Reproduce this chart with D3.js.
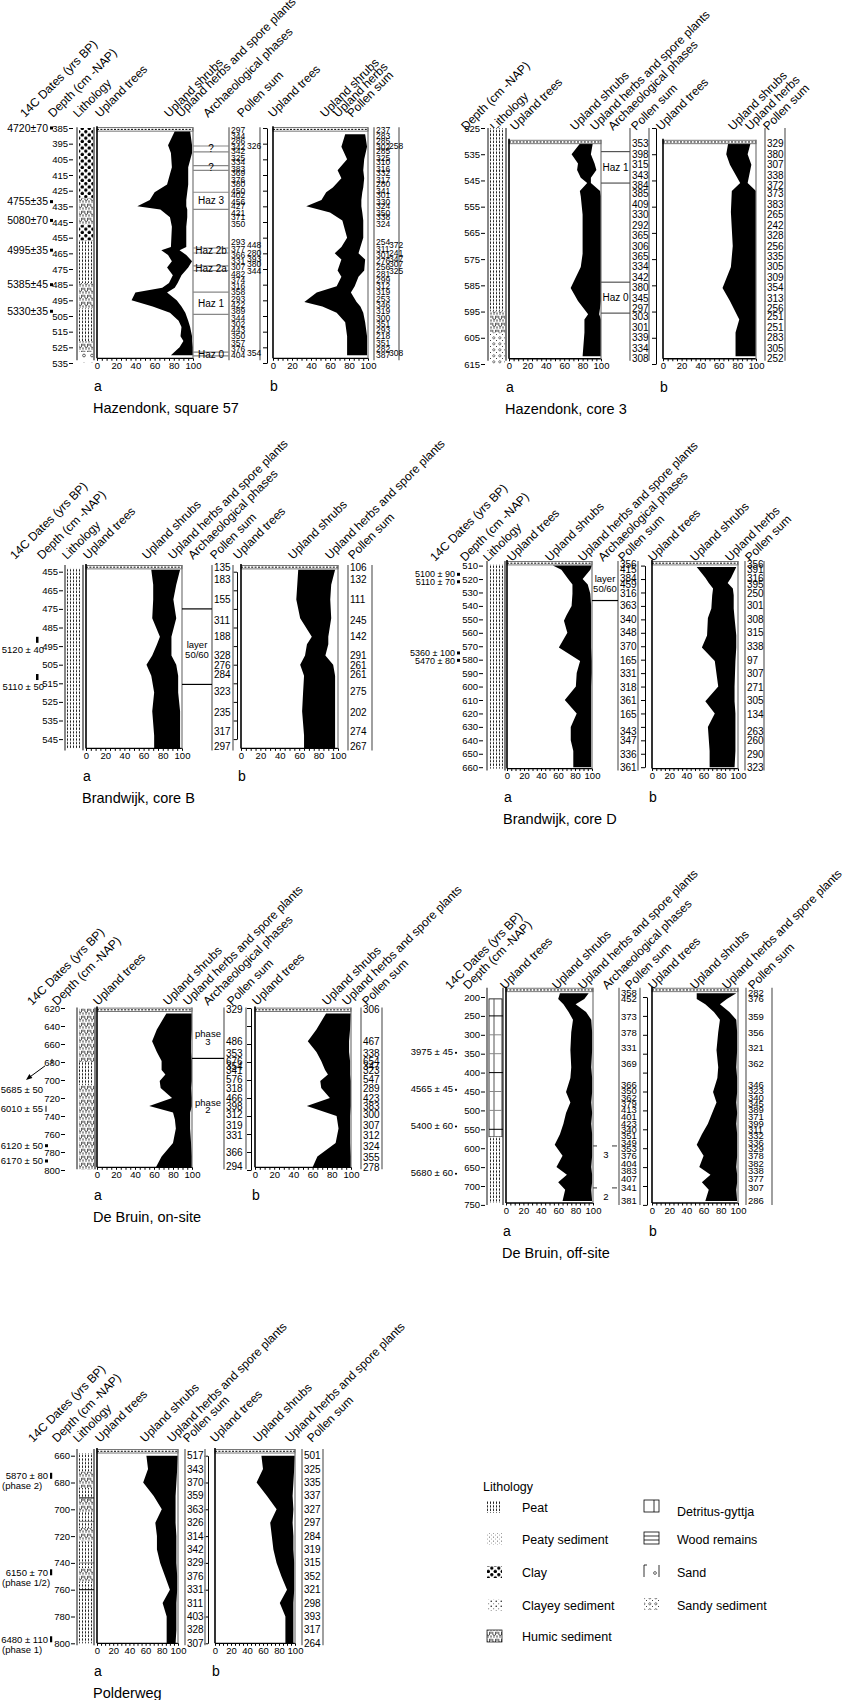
<!DOCTYPE html>
<html>
<head>
<meta charset="utf-8">
<title>Pollen diagrams</title>
<script src="https://cdn.jsdelivr.net/npm/d3@7/dist/d3.min.js"></script>
<style>
  body { margin: 0; background: #fff; }
  text { font-family: "Liberation Sans", Arial, Helvetica, sans-serif; fill: #000; }
</style>
</head>
<body>
<svg id="chart" width="856" height="1700"></svg>
<script>

// shared percentage axis
var pctLabels = [0, 20, 40, 60, 80, 100];
var pctMinor = [0, 5, 10, 15, 20, 25, 30, 35, 40, 45, 50, 55, 60, 65, 70, 75, 80, 85, 90, 95, 100];

// ---------- Hazendonk, square 57
var hz57Ticks = [385, 395, 405, 415, 425, 435, 445, 455, 465, 475, 485, 495, 505, 515, 525, 535];
var hz57DepthA = [387, 396, 401, 410, 421, 426, 431, 435, 437, 442, 448, 461, 463, 466, 470, 474, 479, 484, 487, 490, 495, 499, 503, 508, 512, 518, 521, 525, 530];
var hz57TreesA = [81, 74, 77, 78, 73, 60, 55, 42, 66, 76, 78, 77, 67, 74, 78, 73, 79, 75, 68, 40, 36, 58, 76, 85, 88, 87, 90, 86, 77];
var hz57ShrubsA = [16, 25, 22, 17, 22, 34, 38, 51, 28, 18, 15, 16, 19, 19, 21, 22, 9, 9, 13, 33, 47, 30, 16, 10, 9, 12, 9, 14, 23];
var hz57DepthB = [389, 397, 405, 412, 417, 423, 426, 431, 435, 439, 444, 455, 461, 465, 469, 476, 480, 486, 490, 496, 499, 503, 509, 518, 530];
var hz57TreesB = [76, 72, 78, 68, 72, 63, 56, 51, 35, 60, 73, 78, 72, 65, 72, 68, 72, 67, 46, 33, 52, 67, 76, 78, 78];
var hz57ShrubsB = [21, 27, 18, 27, 24, 32, 38, 42, 58, 34, 22, 17, 20, 25, 25, 28, 18, 19, 36, 55, 40, 28, 21, 21, 21];
var hz57SumDepth = [386, 390, 393, 397, 400, 404, 407, 411, 414, 418, 421, 425, 428, 432, 435, 439, 442, 446, 458, 462, 466, 470, 474, 478, 482, 486, 490, 494, 498, 502, 506, 510, 514, 518, 522, 526, 530];
var hz57SumA = [297, 344, 286, 342, 342, 325, 334, 383, 369, 376, 380, 450, 402, 456, 427, 421, 371, 350, 293, 377, 366, 331, 307, 482, 374, 316, 358, 293, 422, 389, 344, 302, 443, 350, 357, 376, 404];
var hz57SumB = [237, 283, 285, 302, 285, 325, 310, 316, 332, 317, 280, 341, 301, 330, 324, 350, 338, 324, 254, 311, 301, 276, 256, 281, 299, 312, 319, 253, 346, 319, 300, 351, 293, 218, 351, 282, 387];
var hz57Sum2Depth = [396.5, 460, 465, 468.5, 472, 476, 528.5];
var hz57Sum2A = [326, 448, 280, 393, 380, 344, 354];
var hz57Sum2B = [258, 372, 241, 347, 307, 325, 308];
var hz57Lith = [[385, 430, 'clay'], [430, 447, 'humic'], [447, 457, 'clay'], [457, 484, 'peat'], [484, 500, 'humic'], [500, 521, 'peat'], [521, 528, 'humic'], [528, 535, 'sand']];
var hz57PhaseLines = [396.5, 400.3, 409, 412, 426, 437, 461.6, 464.8, 473, 476, 489.7, 504, 528, 530.5];
var hz57PhaseNames = ['?', '?', 'Haz 3', 'Haz 2b', 'Haz 2a', 'Haz 1', 'Haz 0'];
var hz57PhaseDepths = [398.4, 410.5, 431.5, 463.2, 474.5, 497, 529.3];
var hz57Dates = ['4720\u00b170', '4755\u00b135', '5080\u00b170', '4995\u00b135', '5385\u00b145', '5330\u00b135'];
var hz57DateDepths = [385, 432, 444, 463, 485, 502];

// ---------- Hazendonk, core 3
var hz3Ticks = [525, 535, 545, 555, 565, 575, 585, 595, 605, 615];
var hz3DepthA = [531, 535, 538.5, 541, 544, 546, 549, 551, 558, 565, 573, 578, 586, 591, 596, 598, 603, 612];
var hz3TreesA = [77, 68, 75, 74, 78, 85, 77, 78, 80, 80, 80, 78, 67, 75, 86, 82, 82, 80];
var hz3ShrubsA = [14, 21, 18, 21, 11, 4, 22, 22, 20, 20, 20, 22, 33, 25, 12, 18, 18, 20];
var hz3DepthB = [531, 535, 539, 546, 549, 557, 570, 578, 586, 591, 598, 603, 612];
var hz3TreesB = [70, 68, 72, 83, 74, 73, 75, 73, 64, 72, 82, 78, 78];
var hz3ShrubsB = [24, 23, 23, 8, 26, 27, 25, 27, 36, 28, 18, 22, 22];
var hz3SumDepth = [531, 535, 539, 543, 547, 550, 554, 558, 562, 566, 570, 574, 578, 582, 586, 590, 594, 597, 601, 605, 609, 613];
var hz3SumA = [353, 398, 315, 343, 384, 385, 409, 330, 292, 365, 306, 365, 334, 342, 380, 345, 297, 303, 301, 339, 334, 308];
var hz3SumB = [329, 380, 307, 338, 372, 373, 383, 265, 242, 328, 256, 335, 305, 309, 354, 313, 256, 251, 251, 283, 305, 252];
var hz3Lith = [[525, 595, 'peat'], [595, 603, 'humic'], [603, 615, 'sandy']];
var hz3PhaseLines = [534, 546, 583.8, 595.6];
var hz3PhaseNames = ['Haz 1', 'Haz 0'];
var hz3PhaseDepths = [540, 589.7];

// ---------- Brandwijk, core B
var bwBTicks = [455, 465, 475, 485, 495, 505, 515, 525, 535, 545];
var bwBDepth = [454, 462, 470, 480, 490, 494, 500, 505, 511, 520, 530, 543, 550];
var bwBTreesA = [68, 70, 70, 69, 77, 74, 69, 63, 68, 71, 69, 71, 71];
var bwBShrubsA = [30, 24, 21, 25, 12, 15, 20, 31, 28, 25, 29, 27, 27];
var bwBTreesB = [59, 58, 57, 61, 73, 68, 66, 61, 65, 64, 63, 65, 65];
var bwBShrubsB = [38, 35, 35, 32, 17, 22, 21, 34, 32, 33, 34, 32, 32];
var bwBSumDepth = [453, 459, 470, 481, 490, 500, 505.5, 510.5, 519.5, 530.5, 541, 549];
var bwBSumA = [135, 183, 155, 311, 188, 328, 276, 284, 323, 235, 317, 297];
var bwBSumB = [106, 132, 111, 245, 142, 291, 261, 261, 275, 202, 274, 267];
var bwBLith = [[453, 550, 'peat']];
var bwBPhaseLines = [475, 515.6];
var bwBPhaseNames = ['layer', '50/60'];
var bwBPhaseDepths = [494, 499.5];
var bwBDates = ['5120 \u00b1 40', '5110 \u00b1 50'];
var bwBDateDepths = [497, 517];

// ---------- Brandwijk, core D
var bwDTicks = [510, 520, 530, 540, 550, 560, 570, 580, 590, 600, 610, 620, 630, 640, 650, 660];
var bwDDepthA = [510, 513, 520, 524, 531, 540, 547, 551, 560, 571, 581, 590, 600, 610, 620, 630, 640, 648, 660];
var bwDTreesA = [54, 64, 72, 77, 77, 76, 70, 67, 71, 61, 86, 82, 81, 68, 82, 75, 75, 78, 78];
var bwDShrubsA = [46, 34, 17, 18, 21, 23, 29, 32, 28, 38, 14, 18, 18, 31, 17, 24, 24, 21, 21];
var bwDDepthB = [511, 519, 523, 527, 532, 542, 549, 562, 571, 581, 600, 611, 620, 630, 648, 660];
var bwDTreesB = [52, 62, 66, 71, 70, 69, 65, 64, 58, 73, 77, 62, 73, 65, 67, 67];
var bwDShrubsB = [46, 30, 22, 23, 25, 26, 31, 34, 40, 24, 19, 34, 24, 32, 30, 29];
var bwDSumDepth = [509.5, 513, 519.5, 524, 531, 540, 550, 560, 570, 580.5, 590.5, 600.5, 610.5, 620.5, 633.5, 640.5, 650.5, 660];
var bwDSumA = [356, 415, 384, 459, 316, 363, 340, 348, 370, 165, 331, 318, 361, 165, 343, 347, 336, 361];
var bwDSumB = [356, 391, 316, 395, 250, 301, 308, 315, 338, 97, 307, 271, 305, 134, 263, 260, 290, 323];
var bwDLith = [[509, 661, 'peat']];
var bwDPhaseLines = [536];
var bwDPhaseNames = ['layer', '50/60'];
var bwDPhaseDepths = [520, 527.5];
var bwDDates = ['5100 \u00b1 90', '5110 \u00b1 70', '5360 \u00b1 100', '5470 \u00b1 80'];
var bwDDateDepths = [516.5, 522, 575, 580.5];

// ---------- De Bruin, on-site
var dbOnTicks = [620, 640, 660, 680, 700, 720, 740, 760, 780, 800];
var dbOnDepthA = [626, 644, 657, 669, 679, 689, 694, 701, 709, 720, 729, 736, 744, 754, 770, 785, 797];
var dbOnTreesA = [73, 63, 58, 63, 68, 68, 72, 66, 67, 79, 55, 80, 82, 83, 80, 68, 62];
var dbOnShrubsA = [27, 37, 41, 36, 32, 32, 28, 34, 32, 21, 45, 18, 16, 15, 19, 32, 38];
var dbOnDepthB = [626, 644, 657, 669, 679, 689, 694, 701, 709, 720, 729, 740, 754, 770, 785, 797];
var dbOnTreesB = [74, 64, 55, 64, 69, 73, 76, 68, 69, 78, 54, 85, 87, 84, 65, 60];
var dbOnShrubsB = [26, 35, 43, 34, 30, 26, 23, 32, 31, 22, 46, 14, 12, 15, 35, 40];
var dbOnSumDepthA = [622, 657.5, 670, 679.5, 684.5, 689, 699.5, 709, 720, 729.5, 738, 750, 762, 781, 796];
var dbOnSumA = [329, 486, 353, 676, 354, 341, 576, 318, 466, 398, 312, 319, 331, 366, 294];
var dbOnSumDepthB = [622, 657.5, 670, 679.5, 684.5, 689, 699.5, 709, 720, 729.5, 738, 750, 762, 774, 786, 797];
var dbOnSumB = [306, 467, 338, 654, 347, 323, 547, 289, 423, 383, 300, 307, 312, 324, 355, 278];
var dbOnLith = [[620, 680, 'humic'], [680, 706, 'peat'], [706, 800, 'humic']];
var dbOnPhaseLines = [676];
var dbOnPhaseNames = ['phase', '3', 'phase', '2'];
var dbOnPhaseDepths = [649, 657.5, 725, 733.5];
var dbOnDates = ['5685 \u00b1 50', '6010 \u00b1 55', '6120 \u00b1 50', '6170 \u00b1 50'];
var dbOnDateDepths = [711, 732, 773, 790];

// ---------- De Bruin, off-site
var dbOffTicks = [200, 250, 300, 350, 400, 450, 500, 550, 600, 650, 700, 750];
var dbOffDepth = [190, 205, 219, 240, 260, 293, 340, 386, 414, 451, 479, 507, 535, 563, 591, 620, 650, 670, 690, 710, 740];
var dbOffTreesA = [62, 60, 66, 72, 77, 75, 74, 75, 74, 69, 74, 69, 66, 62, 56, 65, 58, 70, 60, 68, 65];
var dbOffShrubsA = [33, 30, 14, 20, 21, 24, 25, 23, 25, 30, 24, 30, 32, 37, 43, 34, 40, 29, 39, 30, 34];
var dbOffTreesB = [52, 52, 62, 72, 79, 77, 75, 77, 76, 71, 75, 70, 65, 58, 52, 60, 55, 68, 58, 66, 62];
var dbOffShrubsB = [46, 35, 17, 18, 19, 22, 24, 21, 23, 28, 23, 29, 33, 41, 47, 39, 43, 31, 41, 32, 37];
var dbOffSumDepth = [189, 205, 253, 295, 335, 376, 433, 449, 466, 482, 498, 517, 535, 552, 568, 586, 600, 620, 640, 660, 680, 705, 738];
var dbOffSumA = [358, 452, 373, 378, 331, 369, 366, 350, 362, 379, 413, 401, 423, 340, 351, 349, 353, 376, 404, 383, 407, 341, 381];
var dbOffSumB = [282, 376, 359, 356, 321, 362, 346, 323, 340, 345, 389, 371, 399, 311, 332, 336, 329, 378, 382, 338, 377, 307, 286];
var dbOffLith = [[205, 570, 'detritus'], [570, 745, 'peat']];
var dbOffLithLines = [250, 300, 350, 400, 450, 500, 550];
var dbOffPhaseLines = [594, 705];
var dbOffPhaseNames = ['3', '2'];
var dbOffPhaseDepths = [617, 728];
var dbOffDates = ['3975 \u00b1 45', '4565 \u00b1 45', '5400 \u00b1 60', '5680 \u00b1 60'];
var dbOffDateDepths = [345, 443, 540, 665];

// ---------- Polderweg
var pwTicks = [660, 680, 700, 720, 740, 760, 780, 800];
var pwDepth = [660, 670, 680, 690, 700, 710, 720, 730, 740, 750, 760, 770, 780, 790, 800];
var pwTreesA = [61, 63, 57, 70, 80, 72, 74, 74, 78, 84, 90, 81, 86, 86, 86];
var pwShrubsA = [39, 36, 41, 27, 17, 25, 24, 24, 20, 15, 9, 17, 12, 12, 11];
var pwTreesB = [58, 60, 52, 65, 77, 69, 71, 73, 77, 83, 90, 81, 88, 88, 88];
var pwShrubsB = [42, 39, 46, 32, 21, 28, 27, 25, 22, 16, 9, 17, 10, 10, 10];
var pwSumA = [517, 343, 370, 359, 363, 326, 314, 342, 329, 376, 331, 311, 403, 328, 307];
var pwSumB = [501, 325, 335, 337, 327, 297, 284, 319, 315, 352, 321, 298, 393, 317, 264];
var pwLith = [[658, 672, 'peat'], [672, 684, 'humic'], [684, 692, 'peat'], [692, 702, 'humic'], [702, 714, 'peat'], [714, 724, 'humic'], [724, 744, 'peat'], [744, 754, 'humic'], [754, 800, 'peat']];
var pwLithLines = [691.5, 709, 740, 760];
var pwDates = ['5870 \u00b1 80', '6150 \u00b1 70', '6480 \u00b1 110'];
var pwDateNotes = ['(phase 2)', '(phase 1/2)', '(phase 1)'];
var pwDateDepths = [675, 747, 797];

// ---------- legend
var legendLeft = ['Peat', 'Peaty sediment', 'Clay', 'Clayey sediment', 'Humic sediment'];
var legendLeftFill = ['peat', 'peaty', 'clay', 'clayey', 'humic'];
var legendRight = ['Detritus-gyttja', 'Wood remains', 'Sand', 'Sandy sediment'];
var legendRightKind = ['detritus', 'wood', 'sand', 'sandy'];

var FONT = '"Liberation Sans", Arial, sans-serif';
var svg = d3.select('#chart');
var defs = svg.append('defs');

function makePattern(id, w, h, build) {
	var p = defs.append('pattern').attr('id', id)
		.attr('patternUnits', 'userSpaceOnUse').attr('width', w).attr('height', h);
	p.append('rect').attr('width', w).attr('height', h).attr('fill', '#fff');
	build(p);
}
makePattern('peat', 3, 3.6, function(p) {
	p.append('rect').attr('x', 1).attr('y', 0.4).attr('width', 0.9).attr('height', 2.2).attr('fill', '#000');
});
makePattern('clay', 7, 6.5, function(p) {
	p.append('circle').attr('cx', 1.8).attr('cy', 1.7).attr('r', 1.7).attr('fill', '#000');
	p.append('circle').attr('cx', 5.3).attr('cy', 4.9).attr('r', 1.7).attr('fill', '#000');
});
makePattern('humic', 6, 7, function(p) {
	p.append('path').attr('d', 'M0.8,0.8v2.2q0,1.5 1.4,1.5q1.4,0 1.4,-1.5v-2.2')
		.attr('fill', 'none').attr('stroke', '#000').attr('stroke-width', 0.7);
	p.append('rect').attr('x', 4.6).attr('y', 0.6).attr('width', 0.8).attr('height', 2.2).attr('fill', '#000');
	p.append('rect').attr('x', 1.6).attr('y', 5.2).attr('width', 0.8).attr('height', 1.5).attr('fill', '#000');
	p.append('rect').attr('x', 4.6).attr('y', 4.4).attr('width', 0.8).attr('height', 2.2).attr('fill', '#000');
});
makePattern('peaty', 4, 4, function(p) {
	p.append('rect').attr('x', 1).attr('y', 0.5).attr('width', 0.7).attr('height', 1.4).attr('fill', '#666');
	p.append('rect').attr('x', 3).attr('y', 2.5).attr('width', 0.7).attr('height', 1.2).attr('fill', '#999');
});
makePattern('clayey', 5, 5, function(p) {
	p.append('circle').attr('cx', 1.2).attr('cy', 1.2).attr('r', 0.7).attr('fill', '#000');
	p.append('circle').attr('cx', 3.7).attr('cy', 3.7).attr('r', 0.5).attr('fill', '#444');
});
makePattern('sand', 8, 9, function(p) {
	p.append('circle').attr('cx', 4).attr('cy', 4.5).attr('r', 1.4)
		.attr('fill', 'none').attr('stroke', '#000').attr('stroke-width', 0.6);
});
makePattern('sandy', 6, 6, function(p) {
	p.append('circle').attr('cx', 1.8).attr('cy', 1.8).attr('r', 1.1)
		.attr('fill', 'none').attr('stroke', '#000').attr('stroke-width', 0.5);
	p.append('circle').attr('cx', 4.5).attr('cy', 4.5).attr('r', 0.5).attr('fill', '#000');
});

function rows(depth, trees, shrubs) {
	return depth.map(function(d, i) {
		return {depth: d, trees: trees[i], shrubs: shrubs[i]};
	});
}

function drawStack(g, xr, y, top, bottom, data) {
	var x = d3.scaleLinear().domain([0, 100]).range(xr);
	var yT = y(top), yB = y(bottom);
	var area = d3.area()
		.y(function(d) { return y(d.depth); })
		.x0(function(d) { return x(d.trees); })
		.x1(function(d) { return x(d.trees + d.shrubs); });
	g.append('path').datum(data).attr('d', area).attr('fill', '#000');

	// top band
	g.append('rect').attr('x', xr[0]).attr('y', yT - 3.5).attr('width', xr[1] - xr[0]).attr('height', 3.5)
		.attr('fill', '#fff').attr('stroke', '#555').attr('stroke-width', 0.8);
	g.append('line').attr('x1', xr[0]).attr('x2', xr[1]).attr('y1', yT - 1.75).attr('y2', yT - 1.75)
		.attr('stroke', '#000').attr('stroke-width', 1).attr('stroke-dasharray', '2,1.4');
	// frame
	g.append('line').attr('x1', xr[0]).attr('x2', xr[1]).attr('y1', yB).attr('y2', yB)
		.attr('stroke', '#000').attr('stroke-width', 1.3);
	g.append('line').attr('x1', xr[0]).attr('x2', xr[0]).attr('y1', yT - 5).attr('y2', yB)
		.attr('stroke', '#000').attr('stroke-width', 1.6);
	g.append('line').attr('x1', xr[1]).attr('x2', xr[1]).attr('y1', yT - 4).attr('y2', yB)
		.attr('stroke', '#777').attr('stroke-width', 1.2);

	// percentage axis
	g.append('g').attr('transform', 'translate(0,' + yB + ')')
		.call(d3.axisBottom(x).tickValues(pctMinor).tickSize(2.5).tickFormat(''))
		.call(function(a) { a.select('.domain').remove(); });
	g.append('g').attr('transform', 'translate(0,' + yB + ')')
		.call(d3.axisBottom(x).tickValues(pctLabels).tickSize(0).tickPadding(4))
		.call(function(a) { a.select('.domain').remove(); })
		.attr('font-family', FONT).attr('font-size', 9.5);
}

function drawPanel(p) {
	var g = svg.append('g');
	var y = d3.scaleLinear().domain(p.domain).range(p.range);
	var yT = y(p.top), yB = y(p.bottom);
	var yAx = Math.min(p.range[0], yT - 4);

	// rotated column headings
	p.labels.forEach(function(l) {
		g.append('text').attr('transform', 'translate(' + l[1] + ',' + p.labelY + ') rotate(-45)')
			.attr('font-size', 12).text(l[0]);
	});

	// depth axis with labels
	g.append('g').attr('transform', 'translate(' + (p.x.depth + 5) + ',0)')
		.call(d3.axisLeft(y).tickValues(p.ticks).tickSize(4).tickPadding(1))
		.call(function(a) { a.select('.domain').remove(); })
		.attr('font-family', FONT).attr('font-size', 9.5);

	// lithology column
	var lx0 = p.x.lith[0], lx1 = p.x.lith[1];
	p.lith.forEach(function(s) {
		var y0 = y(s[0]), y1 = y(s[1]);
		if (s[2] === 'detritus') {
			g.append('rect').attr('x', lx0 + 2).attr('y', y0).attr('width', lx1 - lx0 - 3).attr('height', y1 - y0)
				.attr('fill', '#fff').attr('stroke', '#000').attr('stroke-width', 0.8);
			g.append('line').attr('x1', lx0 + 7).attr('x2', lx0 + 7).attr('y1', y0).attr('y2', y1)
				.attr('stroke', '#555').attr('stroke-width', 1);
		} else {
			g.append('rect').attr('x', lx0 + 2).attr('y', y0).attr('width', lx1 - lx0 - 3).attr('height', y1 - y0)
				.attr('fill', 'url(#' + s[2] + ')');
		}
	});
	(p.lithLines || []).forEach(function(d, i) {
		g.append('line').attr('x1', lx0 + 2).attr('x2', lx1).attr('y1', y(d)).attr('y2', y(d))
			.attr('stroke', i % 3 === 0 ? '#000' : '#888').attr('stroke-width', 1);
	});
	g.append('line').attr('x1', lx0).attr('x2', lx0).attr('y1', yAx).attr('y2', yB + 2)
		.attr('stroke', '#888').attr('stroke-width', 2);
	g.append('line').attr('x1', lx1).attr('x2', lx1).attr('y1', yAx).attr('y2', yB + 2)
		.attr('stroke', '#000').attr('stroke-width', 1);

	// the two stacked diagrams
	drawStack(g, p.x.a, y, p.top, p.bottom, p.a);
	drawStack(g, p.x.b, y, p.top, p.bottom, p.b);

	// depth axis of diagram b
	g.append('g').attr('transform', 'translate(' + p.x.bAxis + ',0)')
		.call(d3.axisLeft(y).tickValues(p.ticks).tickSize(4).tickFormat('').tickSizeOuter(0));

	// pollen sum columns
	[p.x.sumA, p.x.sumB].forEach(function(r) {
		r.forEach(function(xx) {
			g.append('line').attr('x1', xx).attr('x2', xx).attr('y1', yAx).attr('y2', yB + 2)
				.attr('stroke', '#888').attr('stroke-width', 1.6);
		});
	});
	function sums(vals, depths, xx) {
		vals.forEach(function(v, i) {
			g.append('text').attr('x', xx).attr('y', y(depths[i])).attr('dy', '0.35em')
				.attr('font-size', p.sumFont).text(v);
		});
	}
	sums(p.sumA, p.sumADepth, p.x.sumA[0] + 2);
	sums(p.sumB, p.sumBDepth, p.x.sumB[0] + 2);
	if (p.sum2A) {
		sums(p.sum2A, p.sum2Depth, p.x.sum2A);
		sums(p.sum2B, p.sum2Depth, p.x.sum2B);
	}

	// archaeological phases
	if (p.phase) {
		var px0 = p.x.phase[0], px1 = p.x.phase[1];
		p.phase.lines.forEach(function(d) {
			if (p.phase.style === 'dash') {
				g.append('line').attr('x1', px0).attr('x2', px0 + 4).attr('y1', y(d)).attr('y2', y(d))
					.attr('stroke', '#555').attr('stroke-width', 1.2);
				g.append('line').attr('x1', px1 - 7).attr('x2', px1 - 2).attr('y1', y(d)).attr('y2', y(d))
					.attr('stroke', '#555').attr('stroke-width', 1.2);
			} else {
				g.append('line').attr('x1', px0).attr('x2', px1).attr('y1', y(d)).attr('y2', y(d))
					.attr('stroke', p.phase.color).attr('stroke-width', 1.2);
			}
		});
		p.phase.names.forEach(function(t, i) {
			g.append('text').attr('x', (px0 + px1) / 2).attr('y', y(p.phase.depths[i])).attr('dy', '0.35em')
				.attr('text-anchor', 'middle').attr('font-size', p.phase.font).text(t);
		});
	}

	// radiocarbon dates
	if (p.dates) {
		p.dates.labels.forEach(function(lbl, i) {
			var yy = y(p.dates.depths[i]);
			var xd = p.x.date;
			var mark = p.dates.marks[i];
			g.append('text').attr('x', xd).attr('y', yy).attr('dy', '0.35em').attr('text-anchor', 'end')
				.attr('font-size', p.dateFont).text(lbl);
			if (mark === 'square') {
				g.append('rect').attr('x', xd + 2).attr('y', yy - 1.5).attr('width', 3).attr('height', 3);
			} else if (mark === 'dot') {
				g.append('circle').attr('cx', xd + 3).attr('cy', yy + 1).attr('r', 1.1);
			} else if (mark === 'bar') {
				g.append('rect').attr('x', xd + 2).attr('y', yy - 3).attr('width', 2.2).attr('height', 6);
			} else if (mark === 'barAbove') {
				g.append('rect').attr('x', xd - 8).attr('y', yy - 13).attr('width', 2.5).attr('height', 6);
			} else if (mark === 'tick') {
				g.append('line').attr('x1', xd + 3).attr('x2', xd + 3).attr('y1', yy - 3).attr('y2', yy + 3)
					.attr('stroke', '#000').attr('stroke-width', 1);
			} else if (mark === 'arrow') {
				var tx = xd - 17, ty = yy - 10;
				g.append('line').attr('x1', xd + 2).attr('y1', yy - 24).attr('x2', tx + 3).attr('y2', ty - 2.3)
					.attr('stroke', '#000').attr('stroke-width', 1);
				g.append('path').attr('d', 'M' + tx + ',' + ty + 'L' + (tx + 3.4) + ',' + (ty - 6) + 'L' + (tx + 6.4) + ',' + (ty - 2) + 'Z');
				g.append('line').attr('x1', xd + 9).attr('x2', xd + 9).attr('y1', yy - 31).attr('y2', yy - 26)
					.attr('stroke', '#000').attr('stroke-width', 1);
			}
			if (p.dates.notes) {
				g.append('text').attr('x', 2).attr('y', yy + 10).attr('dy', '0.35em')
					.attr('font-size', p.dateFont).text(p.dates.notes[i]);
			}
		});
	}

	// panel letters and title
	g.append('text').attr('x', p.x.a[0] - 3).attr('y', yB + 33).attr('font-size', 14).text('a');
	g.append('text').attr('x', p.x.b[0] - 3).attr('y', yB + 33).attr('font-size', 14).text('b');
	g.append('text').attr('x', p.x.a[0] - 4).attr('y', yB + 55).attr('font-size', 14.5).text(p.title);
}

var panels = [
	{
		title: 'Hazendonk, square 57', domain: [385, 535], range: [128, 363], top: 387, bottom: 532,
		ticks: hz57Ticks, labelY: 118, sumFont: 8.5, dateFont: 10.5,
		labels: [['14C Dates (yrs BP)', 25], ['Depth (cm -NAP)', 53], ['Lithology', 78], ['Upland trees', 100],
			['Upland shrubs', 169], ['Upland herbs and spore plants', 181], ['Archaeological phases', 208], ['Pollen sum', 242],
			['Upland trees', 273], ['Upland shrubs', 325], ['Upland herbs', 338], ['Pollen sum', 352]],
		x: {date: 48, depth: 68, lith: [77, 94], a: [97, 193], phase: [193, 229], sumA: [229, 260], sum2A: 247,
			bAxis: 267, b: [273, 368], sumB: [374, 399], sum2B: 389},
		lith: hz57Lith,
		a: rows(hz57DepthA, hz57TreesA, hz57ShrubsA), b: rows(hz57DepthB, hz57TreesB, hz57ShrubsB),
		sumA: hz57SumA, sumADepth: hz57SumDepth, sumB: hz57SumB, sumBDepth: hz57SumDepth,
		sum2A: hz57Sum2A, sum2B: hz57Sum2B, sum2Depth: hz57Sum2Depth,
		phase: {lines: hz57PhaseLines, names: hz57PhaseNames, depths: hz57PhaseDepths, color: '#888', font: 10},
		dates: {labels: hz57Dates, depths: hz57DateDepths, marks: ['square', 'square', 'square', 'square', 'square', 'square']}
	},
	{
		title: 'Hazendonk, core 3', domain: [525, 615], range: [128, 364], top: 531, bottom: 613,
		ticks: hz3Ticks, labelY: 131, sumFont: 10,
		labels: [['Depth (cm -NAP)', 466], ['Lithology', 495], ['Upland trees', 515], ['Upland shrubs', 575],
			['Upland herbs and spore plants', 595], ['Archaeological phases', 613], ['Pollen sum', 636],
			['Upland trees', 661], ['Upland shrubs', 733], ['Upland herbs', 750], ['Pollen sum', 768]],
		x: {depth: 480, lith: [488, 506], a: [509, 601], phase: [601, 630], sumA: [630, 649],
			bAxis: 656, b: [663, 756], sumB: [765, 785]},
		lith: hz3Lith,
		a: rows(hz3DepthA, hz3TreesA, hz3ShrubsA), b: rows(hz3DepthB, hz3TreesB, hz3ShrubsB),
		sumA: hz3SumA, sumADepth: hz3SumDepth, sumB: hz3SumB, sumBDepth: hz3SumDepth,
		phase: {lines: hz3PhaseLines, names: hz3PhaseNames, depths: hz3PhaseDepths, color: '#555', font: 10}
	},
	{
		title: 'Brandwijk, core B', domain: [455, 545], range: [571.7, 739.1], top: 453.5, bottom: 550,
		ticks: bwBTicks, labelY: 560, sumFont: 10, dateFont: 9.5,
		labels: [['14C Dates (yrs BP)', 15], ['Depth (cm -NAP)', 42], ['Lithology', 67], ['Upland trees', 88],
			['Upland shrubs', 147], ['Upland herbs and spore plants', 173], ['Archaeological phases', 193], ['Pollen sum', 215],
			['Upland trees', 238], ['Upland shrubs', 293], ['Upland herbs and spore plants', 330], ['Pollen sum', 353]],
		x: {date: 44, depth: 58, lith: [65, 83], a: [86, 182], phase: [182, 212], sumA: [212, 233],
			bAxis: 237, b: [241, 338], sumB: [348, 372]},
		lith: bwBLith,
		a: rows(bwBDepth, bwBTreesA, bwBShrubsA), b: rows(bwBDepth, bwBTreesB, bwBShrubsB),
		sumA: bwBSumA, sumADepth: bwBSumDepth, sumB: bwBSumB, sumBDepth: bwBSumDepth,
		phase: {lines: bwBPhaseLines, names: bwBPhaseNames, depths: bwBPhaseDepths, color: '#000', font: 9.5},
		dates: {labels: bwBDates, depths: bwBDateDepths, marks: ['barAbove', 'barAbove']}
	},
	{
		title: 'Brandwijk, core D', domain: [510, 660], range: [565.6, 767.2], top: 509.5, bottom: 661,
		ticks: bwDTicks, labelY: 562, sumFont: 10, dateFont: 9,
		labels: [['14C Dates (yrs BP)', 435], ['Depth (cm -NAP)', 465], ['Lithology', 488], ['Upland trees', 512],
			['Upland shrubs', 550], ['Upland herbs and spore plants', 583], ['Archaeological phases', 603], ['Pollen sum', 623],
			['Upland trees', 653], ['Upland shrubs', 695], ['Upland herbs', 730], ['Pollen sum', 750]],
		x: {date: 455, depth: 478, lith: [487, 505], a: [507, 592], phase: [592, 618], sumA: [618, 638],
			bAxis: 645, b: [652, 738], sumB: [745, 764]},
		lith: bwDLith,
		a: rows(bwDDepthA, bwDTreesA, bwDShrubsA), b: rows(bwDDepthB, bwDTreesB, bwDShrubsB),
		sumA: bwDSumA, sumADepth: bwDSumDepth, sumB: bwDSumB, sumBDepth: bwDSumDepth,
		phase: {lines: bwDPhaseLines, names: bwDPhaseNames, depths: bwDPhaseDepths, color: '#000', font: 9.5},
		dates: {labels: bwDDates, depths: bwDDateDepths, marks: ['square', 'square', 'square', 'square']}
	},
	{
		title: 'De Bruin, on-site', domain: [620, 800], range: [1008, 1170], top: 624, bottom: 797,
		ticks: dbOnTicks, labelY: 1006, sumFont: 10, dateFont: 9.5,
		labels: [['14C Dates (yrs BP)', 32], ['Depth (cm -NAP)', 57], ['Upland trees', 98],
			['Upland shrubs', 168], ['Upland herbs and spore plants', 188], ['Archaeological phases', 208], ['Pollen sum', 232],
			['Upland trees', 257], ['Upland shrubs', 327], ['Upland herbs and spore plants', 347], ['Pollen sum', 367]],
		x: {date: 43, depth: 60, lith: [77, 95], a: [97, 192], phase: [192, 224], sumA: [224, 246],
			bAxis: 251, b: [255, 351], sumB: [361, 382]},
		lith: dbOnLith,
		a: rows(dbOnDepthA, dbOnTreesA, dbOnShrubsA), b: rows(dbOnDepthB, dbOnTreesB, dbOnShrubsB),
		sumA: dbOnSumA, sumADepth: dbOnSumDepthA, sumB: dbOnSumB, sumBDepth: dbOnSumDepthB,
		phase: {lines: dbOnPhaseLines, names: dbOnPhaseNames, depths: dbOnPhaseDepths, color: '#000', font: 9.5},
		dates: {labels: dbOnDates, depths: dbOnDateDepths, marks: ['arrow', 'tick', 'square', 'square']}
	},
	{
		title: 'De Bruin, off-site', domain: [200, 750], range: [997, 1204.9], top: 186, bottom: 745,
		ticks: dbOffTicks, labelY: 990, sumFont: 9.5, dateFont: 9.5,
		labels: [['14C Dates (yrs BP)', 450], ['Depth (cm -NAP)', 468], ['Upland trees', 505],
			['Upland shrubs', 557], ['Upland herbs and spore plants', 583], ['Archaeological phases', 607], ['Pollen sum', 630],
			['Upland trees', 653], ['Upland shrubs', 695], ['Upland herbs and spore plants', 727], ['Pollen sum', 753]],
		x: {date: 453, depth: 480, lith: [487, 503], a: [506, 593], phase: [593, 619], sumA: [619, 640],
			bAxis: 647, b: [652, 738], sumB: [746, 772]},
		lith: dbOffLith, lithLines: dbOffLithLines,
		a: rows(dbOffDepth, dbOffTreesA, dbOffShrubsA), b: rows(dbOffDepth, dbOffTreesB, dbOffShrubsB),
		sumA: dbOffSumA, sumADepth: dbOffSumDepth, sumB: dbOffSumB, sumBDepth: dbOffSumDepth,
		phase: {lines: dbOffPhaseLines, names: dbOffPhaseNames, depths: dbOffPhaseDepths, style: 'dash', font: 9.5},
		dates: {labels: dbOffDates, depths: dbOffDateDepths, marks: ['dot', 'dot', 'dot', 'dot']}
	},
	{
		title: 'Polderweg', domain: [660, 800], range: [1455.7, 1643.3], top: 658, bottom: 800,
		ticks: pwTicks, labelY: 1443, sumFont: 10, dateFont: 9.5,
		labels: [['14C Dates (yrs BP)', 33], ['Depth (cm -NAP)', 57], ['Lithology', 78], ['Upland trees', 100],
			['Upland shrubs', 145], ['Upland herbs and spore plants', 172], ['Pollen sum', 188],
			['Upland trees', 215], ['Upland shrubs', 258], ['Upland herbs and spore plants', 290], ['Pollen sum', 312]],
		x: {date: 48, depth: 70, lith: [77, 94], a: [97, 178], sumA: [185, 205],
			bAxis: 208, b: [215, 295], sumB: [302, 323]},
		lith: pwLith, lithLines: pwLithLines,
		a: rows(pwDepth, pwTreesA, pwShrubsA), b: rows(pwDepth, pwTreesB, pwShrubsB),
		sumA: pwSumA, sumADepth: pwDepth, sumB: pwSumB, sumBDepth: pwDepth,
		dates: {labels: pwDates, depths: pwDateDepths, notes: pwDateNotes, marks: ['bar', 'bar', 'bar']}
	}
];

panels.forEach(drawPanel);

// ---------- lithology legend
var lg = svg.append('g');
lg.append('text').attr('x', 483).attr('y', 1491).attr('font-size', 12.5).text('Lithology');
var rowY = [1508, 1540, 1573, 1606, 1637];
legendLeft.forEach(function(t, i) {
	lg.append('rect').attr('x', 487).attr('y', rowY[i] - 7).attr('width', 15).attr('height', 12)
		.attr('fill', 'url(#' + legendLeftFill[i] + ')').attr('stroke', i === 4 ? '#000' : 'none').attr('stroke-width', 0.7);
	lg.append('text').attr('x', 522).attr('y', rowY[i] + 4).attr('font-size', 12.5).text(t);
});
legendRight.forEach(function(t, i) {
	var x0 = 644, y0 = rowY[i] - 8, kind = legendRightKind[i];
	if (kind === 'sandy') {
		lg.append('rect').attr('x', x0).attr('y', y0).attr('width', 15).attr('height', 12).attr('fill', 'url(#sandy)');
	} else if (kind === 'sand') {
		lg.append('path').attr('d', 'M' + x0 + ',' + y0 + 'v12M' + x0 + ',' + y0 + 'h3M' + (x0 + 15) + ',' + (y0 + 12) + 'v-12')
			.attr('fill', 'none').attr('stroke', '#000').attr('stroke-width', 0.8);
		lg.append('circle').attr('cx', x0 + 11).attr('cy', y0 + 8).attr('r', 1.4).attr('fill', 'none').attr('stroke', '#000').attr('stroke-width', 0.6);
	} else {
		lg.append('rect').attr('x', x0).attr('y', y0).attr('width', 15).attr('height', 12)
			.attr('fill', '#fff').attr('stroke', '#000').attr('stroke-width', 0.8);
		if (kind === 'detritus') {
			lg.append('line').attr('x1', x0 + 10).attr('x2', x0 + 10).attr('y1', y0).attr('y2', y0 + 12).attr('stroke', '#000').attr('stroke-width', 0.8);
		} else {
			lg.append('line').attr('x1', x0).attr('x2', x0 + 15).attr('y1', y0 + 4).attr('y2', y0 + 4).attr('stroke', '#000').attr('stroke-width', 0.8);
			lg.append('line').attr('x1', x0).attr('x2', x0 + 15).attr('y1', y0 + 8).attr('y2', y0 + 8).attr('stroke', '#000').attr('stroke-width', 0.8);
		}
	}
	lg.append('text').attr('x', 677).attr('y', rowY[i] + (i === 0 ? 8 : 4)).attr('font-size', 12.5).text(t);
});
</script>
</body>
</html>
